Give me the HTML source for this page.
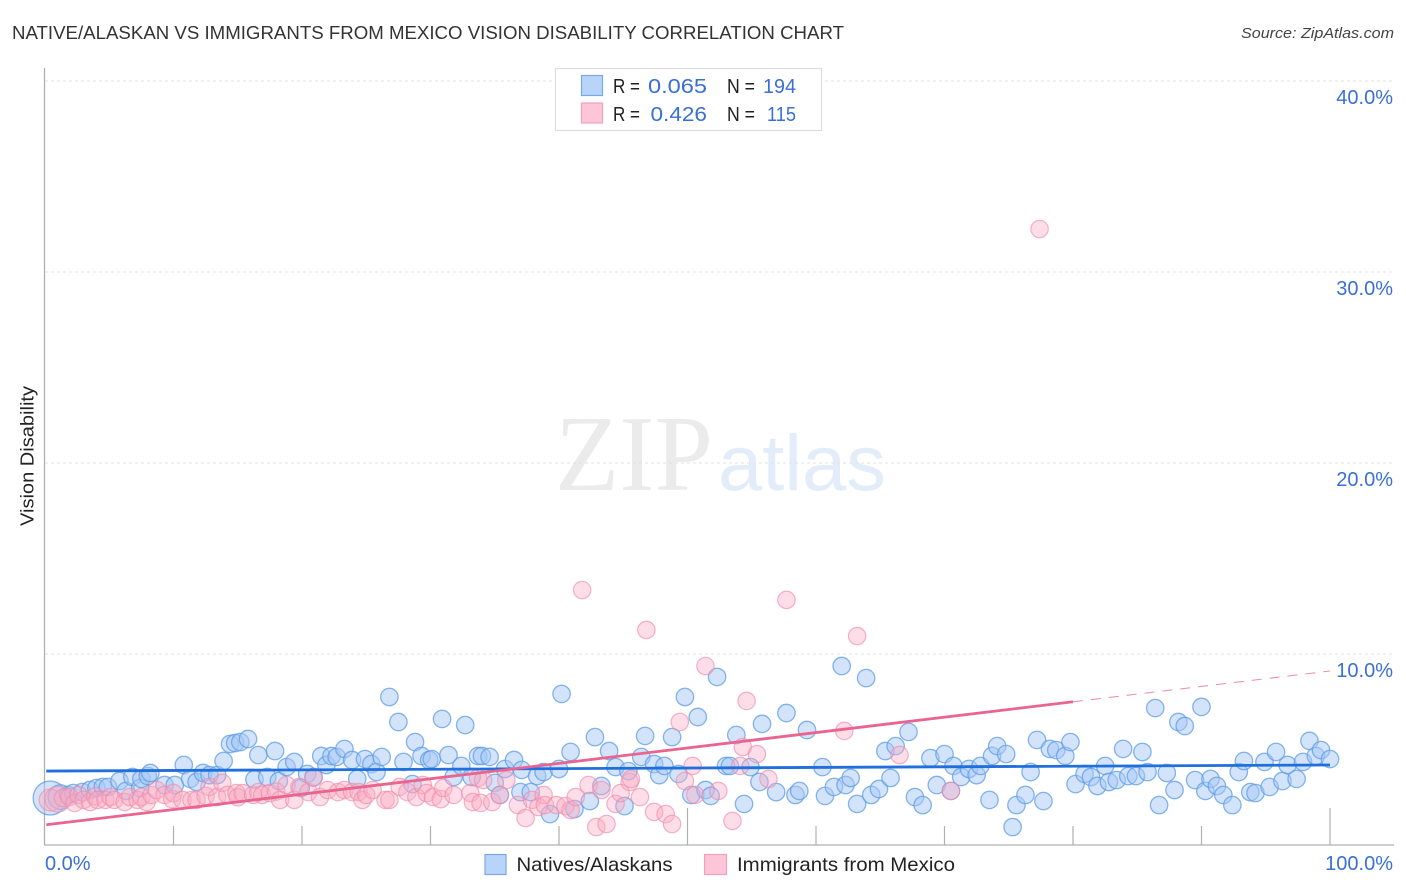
<!DOCTYPE html>
<html lang="en">
<head>
<meta charset="utf-8">
<title>Native/Alaskan vs Immigrants from Mexico Vision Disability Correlation Chart</title>
<style>
html,body{margin:0;padding:0;background:#fff;}
svg{display:block;font-family:"Liberation Sans",sans-serif;}
</style>
</head>
<body>
<svg id="chart" xmlns="http://www.w3.org/2000/svg" width="1406" height="892" viewBox="0 0 1406 892">
  <rect x="0" y="0" width="1406" height="892" fill="#ffffff"/>
  <text x="12" y="39" font-size="18.5" fill="#333333" textLength="832" lengthAdjust="spacingAndGlyphs">NATIVE/ALASKAN VS IMMIGRANTS FROM MEXICO VISION DISABILITY CORRELATION CHART</text>
  <text x="1394" y="38" font-size="15" font-style="italic" fill="#444444" text-anchor="end" textLength="153" lengthAdjust="spacingAndGlyphs">Source: ZipAtlas.com</text>
  <text x="555" y="490" font-family="'Liberation Serif',serif" font-size="108" fill="#ebebeb" textLength="158" lengthAdjust="spacingAndGlyphs">ZIP</text>
  <text x="718" y="490" font-size="79" fill="#e3edf9" textLength="168" lengthAdjust="spacingAndGlyphs">atlas</text>
  <g id="grid-layer"></g>
  <g id="axis-layer">
    <line x1="44.5" y1="68" x2="44.5" y2="845" stroke="#b0b0b0" stroke-width="1.3"/>
    <line x1="44" y1="845" x2="1394" y2="845" stroke="#b0b0b0" stroke-width="1.3"/>
  </g>
  <g id="natives-layer"></g>
  <g id="immigrants-layer"></g>
  <g id="trend-layer"></g>
  <g id="label-layer"></g>
  <text transform="translate(33.5 456) rotate(-90)" font-size="18.5" fill="#222222" text-anchor="middle" textLength="140" lengthAdjust="spacingAndGlyphs">Vision Disability</text>

  <g>
    <rect x="555.5" y="68.5" width="266" height="62" fill="#ffffff" stroke="#dddddd" stroke-width="1.2"/>
    <rect x="581.5" y="75.5" width="21" height="20" fill="#b9d4f9" stroke="#7aa8e6" stroke-width="1.2"/>
    <rect x="581.5" y="103" width="21" height="20" fill="#fcc5d8" stroke="#f2a0bb" stroke-width="1.2"/>
    <text x="613" y="93" font-size="20" fill="#222222" textLength="27" lengthAdjust="spacingAndGlyphs">R =</text>
    <text x="648" y="93" font-size="20.5" fill="#3a6fd8" textLength="59" lengthAdjust="spacingAndGlyphs">0.065</text>
    <text x="727" y="93" font-size="20" fill="#222222" textLength="28" lengthAdjust="spacingAndGlyphs">N =</text>
    <text x="763" y="93" font-size="20.5" fill="#3a6fd8" textLength="33" lengthAdjust="spacingAndGlyphs">194</text>
    <text x="613" y="121" font-size="20" fill="#222222" textLength="27" lengthAdjust="spacingAndGlyphs">R =</text>
    <text x="650.5" y="121" font-size="20.5" fill="#3a6fd8" textLength="56.5" lengthAdjust="spacingAndGlyphs">0.426</text>
    <text x="727" y="121" font-size="20" fill="#222222" textLength="28" lengthAdjust="spacingAndGlyphs">N =</text>
    <text x="767" y="121" font-size="20.5" fill="#3a6fd8" textLength="29" lengthAdjust="spacingAndGlyphs">115</text>
  </g>

  <g>
    <g>
      <rect x="485" y="854.5" width="21" height="20" fill="#b9d4f9" stroke="#7aa8e6" stroke-width="1.2"/>
      <text x="516.5" y="871" font-size="19.5" fill="#222222" textLength="156" lengthAdjust="spacingAndGlyphs">Natives/Alaskans</text>
    </g>
    <g>
      <rect x="704.5" y="854.5" width="22" height="20" fill="#fcc5d8" stroke="#f2a0bb" stroke-width="1.2"/>
      <text x="737" y="871" font-size="19.5" fill="#222222" textLength="218" lengthAdjust="spacingAndGlyphs">Immigrants from Mexico</text>
    </g>
  </g>
</svg>
<script>
const yTickValues = [10, 20, 30, 40];
const yTickLabels = ["10.0%", "20.0%", "30.0%", "40.0%"];
const xTickValues = [0, 10, 20, 30, 40, 50, 60, 70, 80, 90, 100];
const xEndLabels = ["0.0%", "100.0%"];
const nativesTrend = [3.87, 4.19];
const immigrantsTrend = [1.05, 9.11];
const immigrantsSolidEnd = 80;

// [x %, vision disability %, optional weight]
const nativesPoints = [
[0.4,2.46,3.8],[1.2,2.51,2.0],[1.8,2.62],[2.2,2.72],[2.9,2.77],[3.5,2.88],[4.0,2.98],[4.5,3.04],[4.9,3.04],[5.8,3.35],
[6.3,2.83],[6.8,3.56],[7.4,2.98],[7.5,3.46],[8.0,3.61],[8.2,3.77],[9.3,3.14],[10.1,3.14],[10.8,4.19],[11.3,3.46],
[11.8,3.30],[12.3,3.77],[12.8,3.66],[13.4,3.66],[13.9,4.40],[14.4,5.29],[14.8,5.34],[15.2,5.39],[15.8,5.55],[16.6,4.71],
[16.3,3.43],[17.3,3.56],[17.9,4.92],[18.2,3.35],[18.8,4.08],[19.4,4.35],[19.9,2.98],[20.4,3.72],[20.9,3.56],[21.5,4.66],
[21.9,4.19],[22.3,4.66],[22.7,4.61],[23.3,5.03],[23.9,4.45],[24.3,3.46],[24.9,4.50],[25.4,4.24],[25.8,3.82],[26.2,4.61],
[26.8,7.75],[27.5,6.44],[27.9,4.35],[28.6,3.19],[28.8,5.39],[29.3,4.66],[29.9,4.45],[30.1,4.50],[30.9,6.60],[31.4,4.71],
[31.8,3.56],[32.4,4.14],[32.7,6.28],[33.2,3.56],[33.7,4.66],[34.0,4.66],[34.6,4.61],[35.0,3.25],[35.4,2.62],[35.8,3.98],
[36.5,4.45],[37.0,2.77],[37.1,3.93],[37.8,2.77],[38.3,3.61],[38.8,3.82],[39.3,1.62],[40.0,3.98],[40.2,7.91],[40.9,4.87],
[41.2,1.88],[42.4,2.30],[42.8,5.65],[43.3,3.09],[43.9,4.92],[44.4,4.08],[45.1,2.04],[45.4,3.87],[46.4,4.61],[46.7,5.71],
[47.4,4.24],[47.8,3.66],[48.2,4.14],[48.8,5.65],[49.3,3.72],[49.8,7.75],[50.3,2.62],[50.8,6.70],[51.4,2.88],[51.8,2.57],
[52.3,8.80],[53.0,4.14],[53.3,4.14],[53.8,5.76],[54.4,2.15],[54.9,4.08],[55.6,3.30],[55.8,6.34],[56.9,2.77],[57.7,6.91],
[58.4,2.62],[58.7,2.83],[59.3,6.02],[60.5,4.08],[60.7,2.57],[61.4,3.04],[62.0,9.37],[62.3,3.14],[62.7,3.51],[63.2,2.15],
[63.9,8.74],[64.3,2.62],[64.9,2.93],[65.4,4.92],[65.8,3.51],[66.2,5.18],[67.2,5.92],[67.7,2.51],[68.3,2.09],[68.9,4.55],
[69.4,3.14],[70.0,4.76],[70.5,2.83],[70.7,4.14],[71.3,3.56],[71.9,3.98],[72.5,3.66],[72.8,4.14],[73.5,2.36],[73.7,4.66],
[74.1,5.18],[74.8,4.76],[75.3,0.94],[75.6,2.09],[76.3,2.62],[76.7,3.82],[77.2,5.50],[77.7,2.30],[78.2,5.03],[78.7,4.97],
[79.4,4.66],[79.8,5.39],[80.2,3.19],[80.9,3.72],[81.4,3.56],[81.9,3.09],[82.5,4.14],[82.8,3.30],[83.4,3.40],[83.9,5.03],
[84.3,3.61],[84.9,3.61],[85.4,4.87],[85.8,3.82],[86.4,7.17],[86.7,2.09],[87.3,3.77],[87.9,2.88],[88.2,6.44],[88.7,6.23],
[89.5,3.40],[90.0,7.23],[90.3,2.83],[90.7,3.46],[91.2,3.09],[91.7,2.62],[92.4,2.09],[92.9,3.82],[93.3,4.40],[93.8,2.77],
[94.2,2.72],[94.9,4.35],[95.3,3.04],[95.8,4.87],[96.3,3.35],[96.7,4.19],[97.4,3.46],[97.9,4.35],[98.4,5.45],[98.9,4.66],
[99.3,4.97],[100.0,4.50]
];

const immigrantsPoints = [
[0.4,2.36,1.6],[1.0,2.40,2.2],[1.4,2.46],[1.9,2.51],[2.3,2.20],[2.6,2.62],[3.0,2.36],[3.5,2.25],[3.9,2.55],[4.1,2.36],[4.7,2.36],[5.1,2.51],
[5.4,2.36],[6.2,2.25],[6.6,2.51],[7.2,2.36],[7.5,2.51],[7.9,2.25],[8.3,2.62],[8.7,2.88],[9.3,2.62],[9.9,2.40],[10.0,2.72],
[10.7,2.36],[11.4,2.36],[11.8,2.36],[12.5,2.57],[12.8,3.04],[13.4,2.51],[13.8,3.25],[14.2,2.62],[14.9,2.72],[15.0,2.50],[15.4,2.72],
[16.2,2.62],[16.6,2.77],[16.9,2.62],[17.5,2.72],[18.0,2.80],[18.3,2.36],[18.8,3.14],[19.4,2.36],[19.8,3.04],[20.5,2.77],[20.9,3.51],
[21.4,2.51],[22.0,2.88],[22.8,2.77],[23.3,2.88],[23.9,2.77],[24.4,2.77],[24.7,2.36],[25.0,2.62],[25.5,2.88],[26.5,2.36],[26.8,2.36],
[27.6,3.04],[28.2,2.77],[28.9,2.51],[29.4,3.14],[29.7,2.72],[30.2,2.51],[30.8,2.40],[31.0,2.98],[31.8,2.62],[33.1,2.72],[33.3,2.25],
[33.7,3.51],[33.9,2.20],[34.1,3.40],[34.8,2.25],[35.4,2.62],[35.9,3.40],[36.8,2.09],[37.4,1.41],[37.9,2.36],[38.4,1.99],
[38.8,2.62],[38.9,2.09],[39.8,2.09],[40.5,2.04],[40.9,1.83],[41.3,2.51],[41.8,13.35],[42.3,3.14],[42.9,0.94],[43.3,2.88],
[43.7,1.10],[44.4,2.15],[44.8,2.72],[45.5,3.30],[45.6,3.46],[46.3,2.51],[46.8,11.26],[47.4,1.73],[48.3,1.62],[48.8,1.10],
[49.4,6.44],[49.8,3.35],[50.4,4.14],[50.6,2.62],[51.4,9.37],[52.4,2.83],[53.5,1.26],[54.1,4.14],[54.3,5.13],[54.6,7.54],
[55.4,4.76],[56.3,3.46],[57.7,12.83],[62.2,5.97],[63.2,10.94],[66.5,4.71],[70.5,2.83],[77.4,32.25]
];

const NS = "http://www.w3.org/2000/svg";
const xScale = v => 45 + v * 12.85;
const yScale = v => 845 - v * 19.1;
const markRadius = 8.7;

function make(tag, attrs, parentId, text) {
  const el = document.createElementNS(NS, tag);
  Object.keys(attrs).forEach(k => el.setAttribute(k, attrs[k]));
  if (text !== undefined) el.textContent = text;
  document.getElementById(parentId).appendChild(el);
  return el;
}

yTickValues.forEach((v, i) => {
  const grid = make("line", {x1: 45, x2: 1394, y1: yScale(v), y2: yScale(v), stroke: "#e2e2e2", "stroke-width": 1, "stroke-dasharray": "3 3"}, "grid-layer");
  
  
  const label = make("text", {x: 1393, y: yScale(v) + 23, "font-size": 20, fill: "#3a6fd8", "text-anchor": "end"}, "label-layer", yTickLabels[i]);
  
  
});

xTickValues.forEach(v => {
  if (v === 0) return;
  const topY = v % 50 === 0 ? 808 : 826;
  const tick = make("line", {x1: xScale(v), x2: xScale(v), y1: topY, y2: 845, stroke: "#b0b0b0", "stroke-width": 1.2}, "axis-layer");
  
  
});

const xLabelStart = make("text", {x: xScale(0), y: 870, "font-size": 20, fill: "#3a6fd8"}, "label-layer", xEndLabels[0]);


const xLabelEnd = make("text", {x: 1393, y: 870, "font-size": 20, fill: "#3a6fd8", "text-anchor": "end"}, "label-layer", xEndLabels[1]);



nativesPoints.forEach(p => {
  const c = make("circle", {cx: xScale(p[0]), cy: yScale(p[1]), r: markRadius * Math.sqrt(p[2] || 1), fill: "#a6c8f5", "fill-opacity": 0.5, stroke: "#5e9ce6", "stroke-opacity": 0.75, "stroke-width": 1.3}, "natives-layer");
  
  
});

immigrantsPoints.forEach(p => {
  const c = make("circle", {cx: xScale(p[0]), cy: yScale(p[1]), r: markRadius * Math.sqrt(p[2] || 1), fill: "#f9a9c3", "fill-opacity": 0.4, stroke: "#f08aa9", "stroke-opacity": 0.65, "stroke-width": 1.2}, "immigrants-layer");
  
  
});

const trendAt = (t, x) => t[0] + (t[1] - t[0]) * x / 100;

const nativesLine = make("line", {x1: xScale(0.1), x2: xScale(100), y1: yScale(trendAt(nativesTrend, 0.1)), y2: yScale(trendAt(nativesTrend, 100)), stroke: "#1f6fdc", "stroke-width": 2.8}, "trend-layer");



const immigrantsLine = make("line", {x1: xScale(0.1), x2: xScale(immigrantsSolidEnd), y1: yScale(trendAt(immigrantsTrend, 0.1)), y2: yScale(trendAt(immigrantsTrend, immigrantsSolidEnd)), stroke: "#ea6490", "stroke-width": 2.8}, "trend-layer");



const immigrantsDash = make("line", {x1: xScale(immigrantsSolidEnd), x2: xScale(100), y1: yScale(trendAt(immigrantsTrend, immigrantsSolidEnd)), y2: yScale(trendAt(immigrantsTrend, 100)), stroke: "#ee88aa", "stroke-width": 1, "stroke-dasharray": "10 8"}, "trend-layer");


</script>
</body>
</html>
